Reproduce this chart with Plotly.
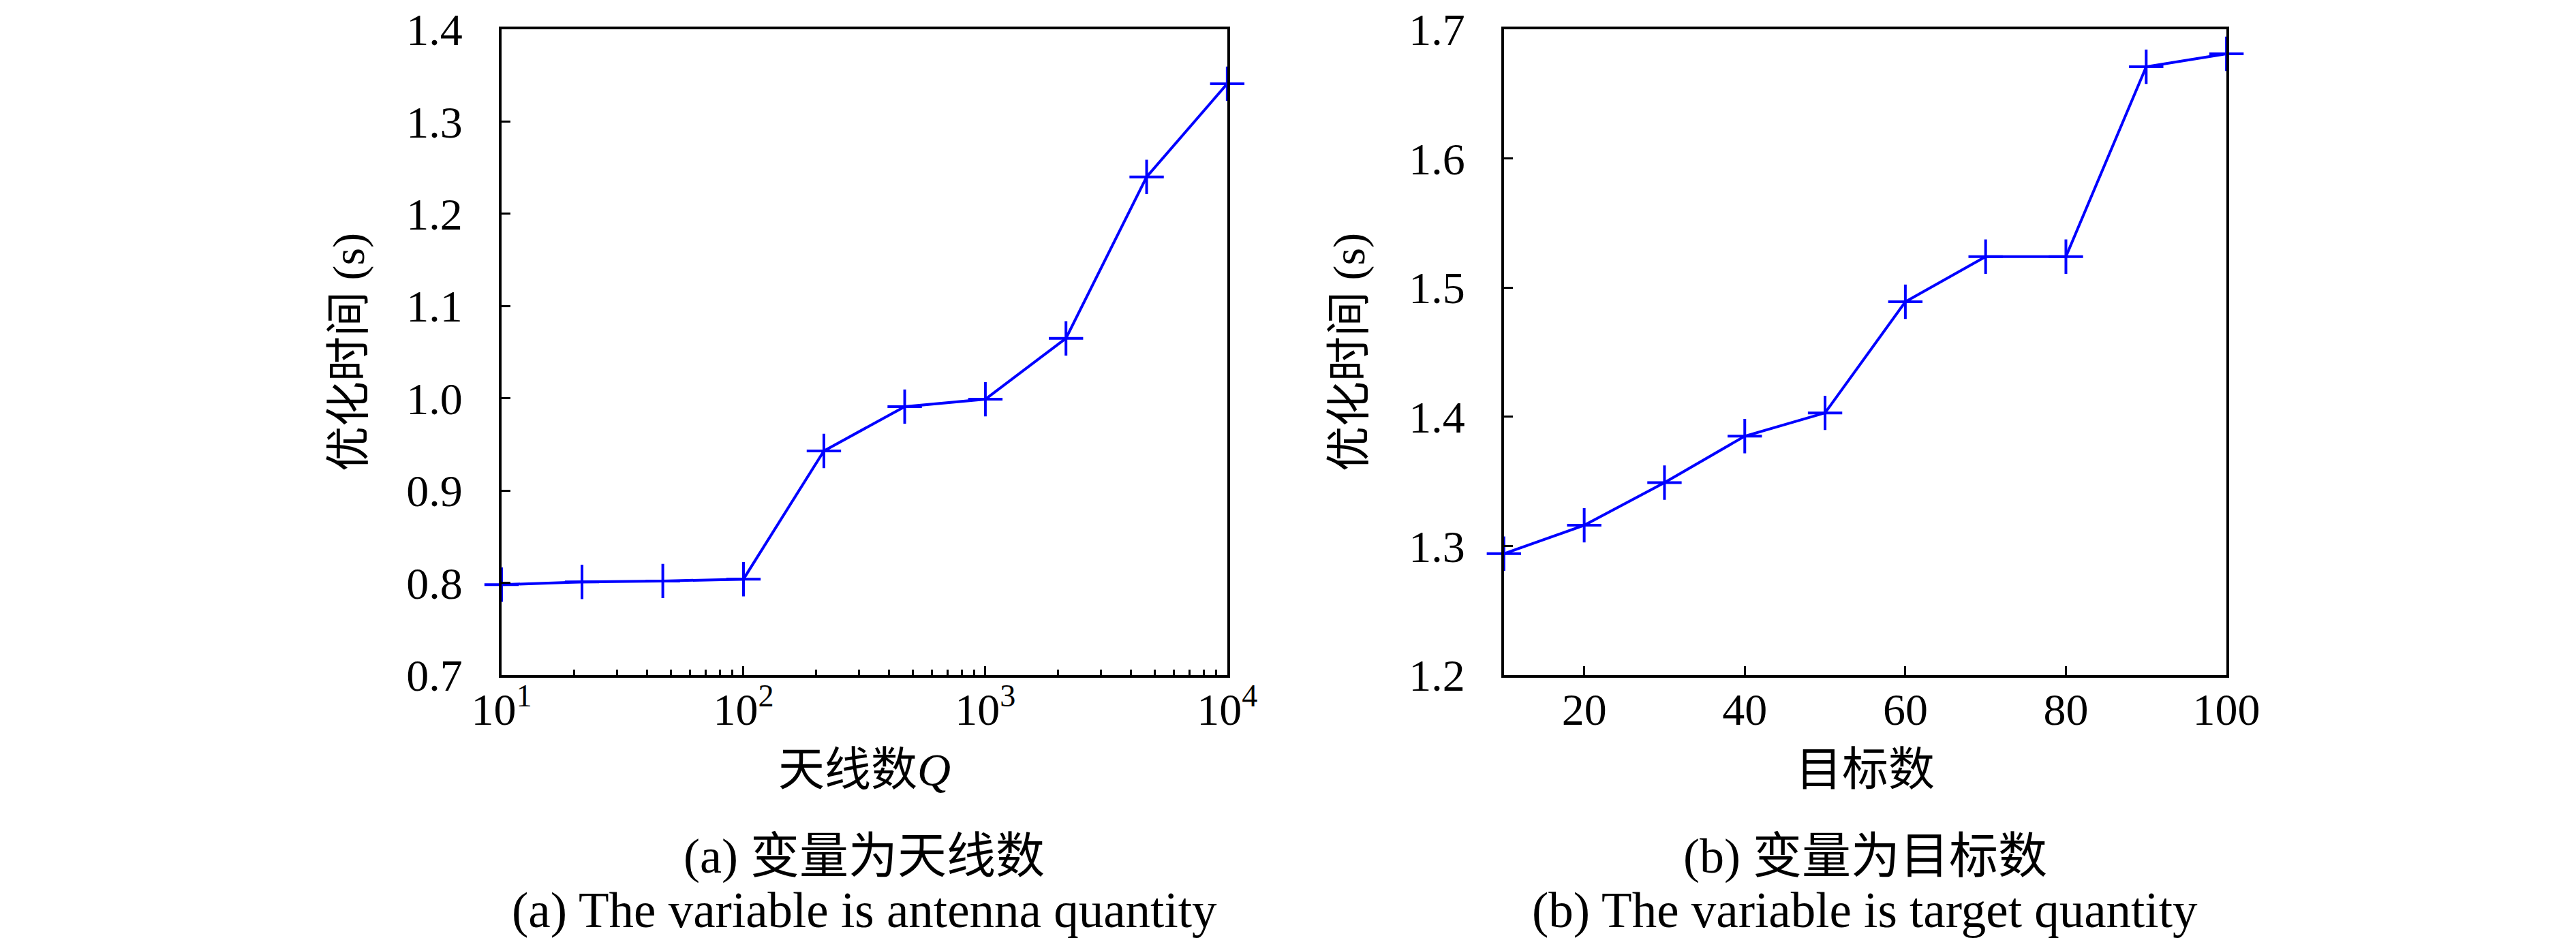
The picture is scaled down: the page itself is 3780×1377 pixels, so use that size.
import plotly.graph_objects as go

# (a) antenna quantity Q, log axis
antennas = [10, 21.5, 46.4, 100, 215, 464, 1000, 2154, 4642, 10000]
time_a = [0.798, 0.801, 0.802, 0.804, 0.943, 0.991, 0.999, 1.065, 1.240, 1.341]

# (b) target quantity
targets = [10, 20, 30, 40, 50, 60, 70, 80, 90, 100]
time_b = [1.294, 1.316, 1.349, 1.385, 1.403, 1.489, 1.524, 1.524, 1.671, 1.681]

xticks_a = [10, 100, 1000, 10000]
xtext_a = ["10<sup>1</sup>", "10<sup>2</sup>", "10<sup>3</sup>", "10<sup>4</sup>"]
xticks_b = [20, 40, 60, 80, 100]
yticks_a = [0.7, 0.8, 0.9, 1.0, 1.1, 1.2, 1.3, 1.4]
yticks_b = [1.2, 1.3, 1.4, 1.5, 1.6, 1.7]

ylabel = "优化时间 (s)"
xlabel_a = "天线数<i>Q</i>"
xlabel_b = "目标数"
caption_a = ["(a) 变量为天线数", "(a) The variable is antenna quantity"]
caption_b = ["(b) 变量为目标数", "(b) The variable is target quantity"]

FONT = "Liberation Serif, Noto Sans CJK SC, serif"
BLUE = "rgb(0,0,255)"

fig = go.Figure()

trace_style = dict(
    mode="lines+markers",
    line=dict(color=BLUE, width=4),
    marker=dict(symbol="cross-thin", size=36, line=dict(color=BLUE, width=4)),
    cliponaxis=False,
    showlegend=False,
)
fig.add_trace(go.Scatter(x=antennas, y=time_a, xaxis="x", yaxis="y", **trace_style))
fig.add_trace(go.Scatter(x=targets, y=time_b, xaxis="x2", yaxis="y2", **trace_style))

axis_common = dict(
    showline=True, linecolor="black", linewidth=4, mirror=True,
    ticks="inside", ticklen=13, tickwidth=3, tickcolor="black",
    showgrid=False, zeroline=False, automargin=False, ticklabeloverflow="allow",
    tickfont=dict(family=FONT, size=66, color="black"),
)

x_dom_a = [0.1926, 0.4743]
x_dom_b = [0.5817, 0.8622]
y_dom = [0.2861, 0.9746]

fig.update_layout(
    template="none",
    width=3780, height=1377,
    margin=dict(l=0, r=0, t=0, b=0, autoexpand=False),
    paper_bgcolor="white", plot_bgcolor="white",
    xaxis=dict(domain=x_dom_a, type="log", range=[1, 4], tickvals=xticks_a, ticktext=xtext_a,
               anchor="y", ticklabelstandoff=-10,
               minor=dict(ticks="inside", ticklen=8, tickwidth=2.5, tickcolor="black",
                          dtick="D1", showgrid=False),
               **axis_common),
    yaxis=dict(domain=y_dom, range=[0.7, 1.4], tickvals=yticks_a,
               ticktext=[f"{v:.1f}" for v in yticks_a], anchor="x",
               ticklabelstandoff=40, **axis_common),
    xaxis2=dict(domain=x_dom_b, range=[10, 100], tickvals=xticks_b, anchor="y2",
                ticklabelstandoff=-10, **axis_common),
    yaxis2=dict(domain=y_dom, range=[1.2, 1.7], tickvals=yticks_b,
                ticktext=[f"{v:.1f}" for v in yticks_b], anchor="x2",
                ticklabelstandoff=40, **axis_common),
)


def label(x, y, text, size, angle=0):
    fig.add_annotation(x=x, y=y, xref="paper", yref="paper", text=text, showarrow=False,
                       textangle=angle, font=dict(family=FONT, size=size, color="black"),
                       xanchor="center", yanchor="middle")


cx_a = sum(x_dom_a) / 2
cx_b = sum(x_dom_b) / 2
cy = sum(y_dom) / 2

label(504 / 3780, cy, ylabel, 66, -90)
label(1972 / 3780, cy, ylabel, 66, -90)
label(cx_a, 1 - 1122 / 1377, xlabel_a, 68)
label(cx_b, 1 - 1122 / 1377, xlabel_b, 68)
label(cx_a, 1 - 1249 / 1377, caption_a[0], 72)
label(cx_a, 1 - 1328 / 1377, caption_a[1], 73)
label(cx_b, 1 - 1249 / 1377, caption_b[0], 72)
label(cx_b, 1 - 1328 / 1377, caption_b[1], 73)

fig.write_html("out.html")
